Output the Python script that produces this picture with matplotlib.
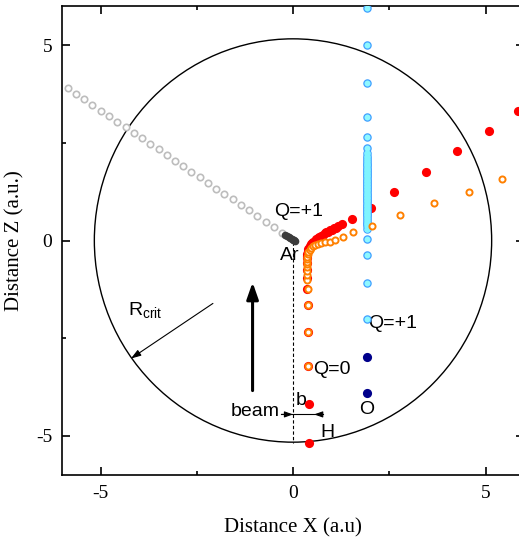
import numpy as np
import matplotlib
matplotlib.use('Agg')
import matplotlib.pyplot as plt
from matplotlib.patches import Circle

plt.rcParams['axes.unicode_minus'] = False

# Ar (отдача, серые кружки)
ar_x = [-5.85, -5.64, -5.42, -5.21, -4.99, -4.78, -4.57, -4.35, -4.14, -3.92,
        -3.71, -3.49, -3.28, -3.07, -2.85, -2.64, -2.42, -2.21, -1.99, -1.78,
        -1.57, -1.35, -1.14, -0.93, -0.71, -0.50, -0.29]
ar_y = [3.89, 3.75, 3.61, 3.46, 3.32, 3.18, 3.04, 2.90, 2.75, 2.61,
        2.47, 2.33, 2.19, 2.04, 1.90, 1.76, 1.62, 1.48, 1.33, 1.19,
        1.05, 0.91, 0.77, 0.62, 0.48, 0.34, 0.20]
ar_core_x = [-0.20, -0.15, -0.11, -0.07, -0.03, 0.00, 0.03, 0.06]
ar_core_y = [0.13, 0.11, 0.08, 0.06, 0.04, 0.02, 0.01, -0.01]

# H (красные точки)
h_x = [0.41, 0.41, 0.40, 0.39, 0.38, 0.37, 0.37, 0.37, 0.36, 0.36, 0.36, 0.37,
       0.38, 0.40, 0.42, 0.44, 0.47, 0.50, 0.53, 0.56, 0.60, 0.64, 0.68, 0.72,
       0.77, 0.82, 0.87, 0.92, 0.97, 1.02, 1.07, 1.12, 1.17, 1.27, 1.53, 2.03,
       2.62, 3.45, 4.25, 5.08, 5.85]
h_y = [-5.17, -4.19, -3.22, -2.33, -1.66, -1.23, -0.95, -0.75, -0.58, -0.46,
       -0.40, -0.34, -0.28, -0.23, -0.18, -0.14, -0.10, -0.06, -0.03, 0.00,
       0.03, 0.06, 0.09, 0.12, 0.15, 0.18, 0.21, 0.23, 0.26, 0.28, 0.31, 0.33,
       0.36, 0.42, 0.55, 0.82, 1.25, 1.76, 2.28, 2.81, 3.32]

# Q=0 (оранжевые кружки)
c_x = [0.40, 0.40, 0.39, 0.38, 0.37, 0.36, 0.36, 0.36, 0.36, 0.36, 0.36, 0.37,
       0.38, 0.40, 0.43, 0.47, 0.52, 0.58, 0.65, 0.73, 0.82, 0.95, 1.10, 1.29,
       1.55, 2.05, 2.77, 3.65, 4.56, 5.44]
c_y = [-3.22, -2.33, -1.66, -1.23, -1.02, -0.88, -0.78, -0.69, -0.61, -0.54,
       -0.47, -0.41, -0.35, -0.29, -0.24, -0.19, -0.15, -0.12, -0.09, -0.07,
       -0.05, -0.03, 0.02, 0.09, 0.21, 0.38, 0.64, 0.95, 1.25, 1.58]

# O: Q=+1 (голубые) и нейтральный (тёмно-синие)
o_plus_y = [-2.00, -1.10, -0.38, 0.03, 0.30, 0.36, 0.41, 0.46, 0.51, 0.56,
            0.60, 0.64, 0.68, 0.72, 0.76, 0.80, 0.84, 0.88, 0.92, 0.96, 1.00,
            1.04, 1.08, 1.12, 1.16, 1.20, 1.24, 1.28, 1.32, 1.36, 1.40, 1.44,
            1.48, 1.52, 1.56, 1.60, 1.64, 1.68, 1.72, 1.76, 1.80, 1.84, 1.88,
            1.92, 1.96, 2.00, 2.05, 2.10, 2.17, 2.25, 2.37, 2.66, 3.17, 4.02,
            4.99, 5.96]
o_plus_x = [1.91] * len(o_plus_y)
o_neu_y = [-3.91, -2.97]
o_neu_x = [1.91, 1.91]

r_crit = 5.16

fig = plt.figure(figsize=(5.19, 5.42), dpi=100)
ax = fig.add_axes([62 / 519, 67 / 542, 462 / 519, 469 / 542])

sans = ['Liberation Sans', 'DejaVu Sans']
serif = ['Liberation Serif', 'DejaVu Serif']

ax.add_patch(Circle((0, 0), r_crit, fill=False, ec='black', lw=1.0, zorder=1))
ax.plot([0, 0], [-0.05, -5.18], ls=(0, (3, 2)), color='black', lw=0.8, zorder=1)

ax.plot(ar_x, ar_y, 'o', ms=4.6, mfc='white', mec='#bdbdbd', mew=1.2, zorder=3)
ax.plot(ar_core_x, ar_core_y, 'o', ms=5.5, color='#3c3c3c', mew=0, zorder=3)
ax.plot(h_x, h_y, 'o', ms=6.6, color='#ff0000', mew=0, zorder=4)
ax.plot(o_neu_x, o_neu_y, 'o', ms=6.6, color='#00008b', mew=0, zorder=5)
ax.plot(o_plus_x, o_plus_y, 'o', ms=5.2, mfc='#8ff8ff', mec='#3fa0ff', mew=0.9, zorder=5)
ax.plot(o_plus_x[4:-6], o_plus_y[4:-6], 'o', ms=4.6, color='#7ff4ff', mew=0, zorder=5)
ax.plot(c_x, c_y, 'o', ms=4.4, mfc='white', mec='#ff8000', mew=1.4, zorder=6)

# подписи
fs = 14
ax.text(0.15, 0.74, 'Q=+1', fontsize=fs, family=sans, ha='center', va='center')
ax.text(-0.09, -0.38, 'Ar', fontsize=fs, family=sans, ha='center', va='center')
ax.text(2.6, -2.12, 'Q=+1', fontsize=fs, family=sans, ha='center', va='center')
ax.text(1.02, -3.3, 'Q=0', fontsize=fs, family=sans, ha='center', va='center')
ax.text(1.91, -4.32, 'O', fontsize=fs, family=sans, ha='center', va='center')
ax.text(0.9, -4.9, 'H', fontsize=fs, family=sans, ha='center', va='center')
ax.text(0.2, -4.1, 'b', fontsize=fs, family=sans, ha='center', va='center')
ax.text(-0.97, -4.37, 'beam', fontsize=fs, family=sans, ha='center', va='center')
ax.text(-3.85, -1.79, r'R$_{\mathregular{crit}}$', fontsize=fs, family=sans,
        ha='center', va='center')

# стрелки
ax.annotate('', xy=(-1.05, -1.07), xytext=(-1.05, -3.84),
            arrowprops=dict(arrowstyle='-|>,head_length=1.0,head_width=0.35',
                            lw=2.2, color='black', shrinkA=0, shrinkB=0))
ax.annotate('', xy=(-4.21, -3.02), xytext=(-2.08, -1.61),
            arrowprops=dict(arrowstyle='-|>,head_length=0.6,head_width=0.2',
                            lw=0.8, color='black', shrinkA=0, shrinkB=0))
ax.plot([-0.32, 0.78], [-4.45, -4.45], color='black', lw=0.8)
ax.annotate('', xy=(0, -4.45), xytext=(-0.3, -4.45),
            arrowprops=dict(arrowstyle='-|>,head_length=0.5,head_width=0.18',
                            lw=0.8, color='black', shrinkA=0, shrinkB=0))
ax.annotate('', xy=(0.55, -4.45), xytext=(0.78, -4.45),
            arrowprops=dict(arrowstyle='-|>,head_length=0.5,head_width=0.18',
                            lw=0.8, color='black', shrinkA=0, shrinkB=0))

ax.set_xlim(-6, 6)
ax.set_ylim(-6, 6)
ax.set_xticks([-5, 0, 5])
ax.set_yticks([-5, 0, 5])
ax.set_xticks([-2.5, 2.5], minor=True)
ax.set_yticks([-2.5, 2.5], minor=True)
ax.tick_params(which='both', direction='in', top=True, right=True, width=1.2)
ax.tick_params(which='major', length=5.8, pad=7, labelsize=14)
ax.tick_params(which='minor', length=3.2)
for lab in ax.get_xticklabels() + ax.get_yticklabels():
    lab.set_family(serif)
for sp in ax.spines.values():
    sp.set_linewidth(1.2)

ax.set_xlabel('Distance X (a.u)', fontsize=15, family=serif, labelpad=12)
ax.set_ylabel('Distance Z (a.u.)', fontsize=15, family=serif, labelpad=8)

fig.savefig('out.png', dpi=100)
